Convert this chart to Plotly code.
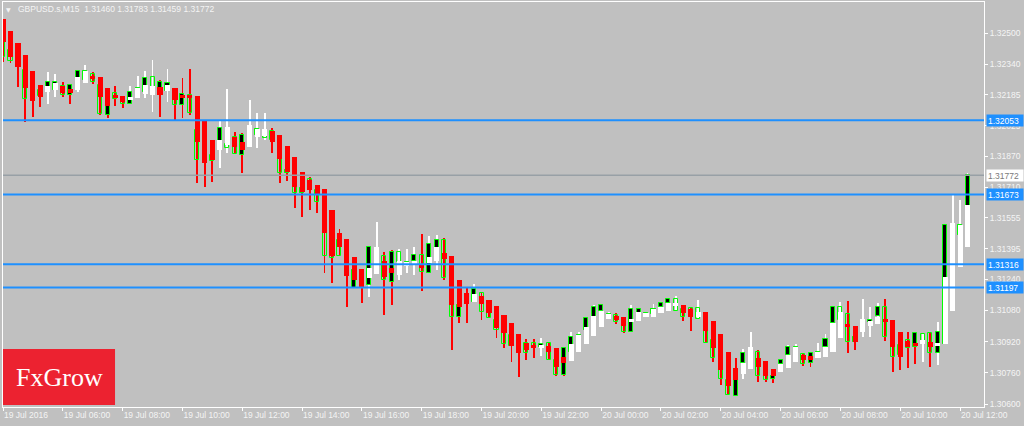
import plotly.graph_objects as go

# ---------------- data ----------------
time_labels = ["19 Jul 2016", "19 Jul 06:00", "19 Jul 08:00", "19 Jul 10:00", "19 Jul 12:00",
               "19 Jul 14:00", "19 Jul 16:00", "19 Jul 18:00", "19 Jul 20:00", "19 Jul 22:00",
               "20 Jul 00:00", "20 Jul 02:00", "20 Jul 04:00", "20 Jul 06:00", "20 Jul 08:00",
               "20 Jul 10:00", "20 Jul 12:00"]
label_bars = [0, 8, 16, 24, 32, 40, 48, 56, 64, 72, 80, 88, 96, 104, 112, 120, 128]

price_ticks = [1.32500, 1.32340, 1.32185, 1.32025, 1.31870, 1.31710, 1.31555,
               1.31395, 1.31240, 1.31080, 1.30920, 1.30760, 1.30600]
level_lines = [1.32053, 1.31673, 1.31316, 1.31197]
bid_price = 1.31772

open_ = [1.32515, 1.32413, 1.32362, 1.32311, 1.32182, 1.32208, 1.32198, 1.32208, 1.32229, 1.32182,
         1.32208, 1.32259, 1.32290, 1.32234, 1.32080, 1.32193, 1.32157, 1.32136, 1.32182, 1.32198,
         1.32275, 1.32182, 1.32203, 1.32182, 1.32131, 1.32182, 1.32003, 1.31901, 1.31875, 1.31926,
         1.31932, 1.31967, 1.31875, 1.31952, 1.31978, 1.32003, 1.31998, 1.31901, 1.31783, 1.31747,
         1.31681, 1.31752, 1.31696, 1.31542, 1.31389, 1.31440, 1.31286, 1.31194, 1.31235, 1.31210,
         1.31286, 1.31358, 1.31225, 1.31378, 1.31307, 1.31332, 1.31363, 1.31271, 1.31363, 1.31440,
         1.31184, 1.31046, 1.31158, 1.31122, 1.31169, 1.31107, 1.31030, 1.31005, 1.30953, 1.30902,
         1.30912, 1.30912, 1.30892, 1.30912, 1.30825, 1.30749, 1.30866, 1.30902, 1.30979, 1.31030,
         1.31076, 1.31041, 1.31056, 1.31030, 1.30969, 1.31066, 1.31051, 1.31061, 1.31097, 1.31117,
         1.31138, 1.31087, 1.31092, 1.31092, 1.31030, 1.30928, 1.30825, 1.30723, 1.30641, 1.30810,
         1.30825, 1.30866, 1.30774, 1.30728, 1.30805, 1.30851, 1.30877, 1.30856, 1.30810, 1.30846,
         1.30892, 1.31015, 1.31097, 1.31061, 1.30918, 1.30979, 1.31020, 1.31051, 1.31097, 1.30953,
         1.30902, 1.30928, 1.30892, 1.30959, 1.30964, 1.30861, 1.30907, 1.31466, 1.31466, 1.31460]
high = [1.32572, 1.32510, 1.32449, 1.32387, 1.32305, 1.32234, 1.32300, 1.32290, 1.32249, 1.32239,
        1.32305, 1.32336, 1.32300, 1.32275, 1.32218, 1.32229, 1.32177, 1.32229, 1.32280, 1.32305,
        1.32362, 1.32259, 1.32316, 1.32218, 1.32270, 1.32316, 1.32177, 1.32055, 1.31952, 1.32055,
        1.32213, 1.31993, 1.31988, 1.32157, 1.32090, 1.32090, 1.32014, 1.31978, 1.31921, 1.31865,
        1.31788, 1.31763, 1.31722, 1.31701, 1.31594, 1.31496, 1.31445, 1.31353, 1.31291, 1.31404,
        1.31532, 1.31378, 1.31389, 1.31394, 1.31394, 1.31404, 1.31471, 1.31460, 1.31466, 1.31450,
        1.31358, 1.31235, 1.31194, 1.31215, 1.31169, 1.31133, 1.31102, 1.31056, 1.31015, 1.30959,
        1.30933, 1.30933, 1.30938, 1.30918, 1.30887, 1.30887, 1.30969, 1.30969, 1.31046, 1.31107,
        1.31107, 1.31071, 1.31066, 1.31046, 1.31107, 1.31087, 1.31066, 1.31112, 1.31117, 1.31138,
        1.31153, 1.31107, 1.31092, 1.31133, 1.31071, 1.31025, 1.30959, 1.30866, 1.30836, 1.30882,
        1.30969, 1.30877, 1.30820, 1.30779, 1.30825, 1.30902, 1.30907, 1.30861, 1.30866, 1.30912,
        1.30959, 1.31097, 1.31122, 1.31128, 1.31000, 1.31138, 1.31097, 1.31117, 1.31138, 1.31030,
        1.30969, 1.30969, 1.30969, 1.30964, 1.30964, 1.31020, 1.31517, 1.31670, 1.31645, 1.31783]
low = [1.32352, 1.32346, 1.32223, 1.32044, 1.32070, 1.32121, 1.32136, 1.32172, 1.32172, 1.32136,
       1.32198, 1.32244, 1.32239, 1.32080, 1.32065, 1.32126, 1.32116, 1.32136, 1.32167, 1.32167,
       1.32095, 1.32070, 1.32147, 1.32055, 1.32065, 1.32080, 1.31732, 1.31711, 1.31737, 1.31809,
       1.31885, 1.31880, 1.31783, 1.31916, 1.31911, 1.31952, 1.31885, 1.31732, 1.31742, 1.31604,
       1.31558, 1.31594, 1.31578, 1.31271, 1.31220, 1.31358, 1.31097, 1.31194, 1.31117, 1.31148,
       1.31266, 1.31056, 1.31107, 1.31235, 1.31271, 1.31261, 1.31179, 1.31271, 1.31286, 1.31235,
       1.30877, 1.31015, 1.31015, 1.31122, 1.31030, 1.31041, 1.30938, 1.30887, 1.30815, 1.30738,
       1.30825, 1.30836, 1.30846, 1.30825, 1.30743, 1.30743, 1.30820, 1.30866, 1.30907, 1.30948,
       1.30994, 1.31035, 1.31010, 1.30964, 1.30969, 1.31025, 1.31046, 1.31046, 1.31066, 1.31076,
       1.31076, 1.31025, 1.30974, 1.31035, 1.30912, 1.30815, 1.30697, 1.30646, 1.30641, 1.30728,
       1.30779, 1.30713, 1.30713, 1.30708, 1.30764, 1.30784, 1.30815, 1.30795, 1.30790, 1.30836,
       1.30841, 1.30866, 1.30938, 1.30861, 1.30877, 1.30943, 1.30943, 1.31010, 1.30923, 1.30764,
       1.30774, 1.30784, 1.30805, 1.30815, 1.30790, 1.30800, 1.30907, 1.31440, 1.31440, 1.31459]
close = [1.32377, 1.32357, 1.32326, 1.32162, 1.32157, 1.32177, 1.32249, 1.32249, 1.32182, 1.32234,
         1.32305, 1.32305, 1.32249, 1.32085, 1.32126, 1.32162, 1.32136, 1.32198, 1.32218, 1.32270,
         1.32182, 1.32249, 1.32244, 1.32131, 1.32188, 1.32090, 1.31850, 1.31850, 1.31844, 1.32014,
         1.31911, 1.31880, 1.31978, 1.32003, 1.32008, 1.31962, 1.31952, 1.31783, 1.31798, 1.31681,
         1.31706, 1.31722, 1.31635, 1.31358, 1.31348, 1.31358, 1.31261, 1.31286, 1.31199, 1.31404,
         1.31389, 1.31235, 1.31378, 1.31327, 1.31327, 1.31363, 1.31276, 1.31420, 1.31440, 1.31245,
         1.31046, 1.31107, 1.31117, 1.31189, 1.31071, 1.31041, 1.30979, 1.30907, 1.30897, 1.30861,
         1.30861, 1.30887, 1.30907, 1.30825, 1.30749, 1.30887, 1.30943, 1.30953, 1.31041, 1.31097,
         1.31107, 1.31061, 1.31020, 1.30969, 1.31087, 1.31087, 1.31066, 1.31087, 1.31117, 1.31138,
         1.31076, 1.31046, 1.31051, 1.31035, 1.30912, 1.30836, 1.30728, 1.30646, 1.30774, 1.30861,
         1.30877, 1.30743, 1.30723, 1.30743, 1.30825, 1.30892, 1.30892, 1.30805, 1.30861, 1.30866,
         1.30933, 1.31097, 1.31030, 1.30918, 1.30943, 1.31030, 1.31030, 1.31097, 1.30943, 1.30841,
         1.30851, 1.30887, 1.30964, 1.30912, 1.30861, 1.30969, 1.31517, 1.31517, 1.31517, 1.31772]
ha_open = [1.32572, 1.32510, 1.32449, 1.32387, 1.32305, 1.32234, 1.32198, 1.32208, 1.32229, 1.32213,
           1.32208, 1.32244, 1.32280, 1.32275, 1.32218, 1.32182, 1.32177, 1.32157, 1.32167, 1.32188,
           1.32182, 1.32223, 1.32203, 1.32218, 1.32182, 1.32182, 1.32177, 1.32055, 1.31952, 1.31901,
           1.31926, 1.31967, 1.31942, 1.31916, 1.31967, 1.31973, 1.31998, 1.31978, 1.31921, 1.31865,
           1.31788, 1.31747, 1.31722, 1.31701, 1.31594, 1.31476, 1.31445, 1.31353, 1.31291, 1.31245,
           1.31266, 1.31332, 1.31297, 1.31261, 1.31307, 1.31317, 1.31312, 1.31322, 1.31332, 1.31373,
           1.31358, 1.31235, 1.31169, 1.31122, 1.31153, 1.31133, 1.31102, 1.31056, 1.31015, 1.30959,
           1.30912, 1.30902, 1.30892, 1.30897, 1.30887, 1.30841, 1.30820, 1.30866, 1.30907, 1.30948,
           1.30994, 1.31035, 1.31051, 1.31046, 1.31020, 1.31025, 1.31046, 1.31046, 1.31066, 1.31076,
           1.31102, 1.31107, 1.31087, 1.31046, 1.31071, 1.31025, 1.30959, 1.30866, 1.30784, 1.30754,
           1.30779, 1.30836, 1.30820, 1.30779, 1.30764, 1.30784, 1.30815, 1.30851, 1.30846, 1.30836,
           1.30841, 1.30866, 1.30938, 1.31010, 1.31000, 1.30969, 1.31000, 1.31010, 1.31035, 1.31030,
           1.30969, 1.30923, 1.30912, 1.30907, 1.30918, 1.30902, 1.30907, 1.31076, 1.31302, 1.31404]
ha_close = [1.32454, 1.32377, 1.32326, 1.32218, 1.32152, 1.32172, 1.32229, 1.32244, 1.32193, 1.32193,
            1.32275, 1.32305, 1.32264, 1.32172, 1.32126, 1.32172, 1.32147, 1.32172, 1.32218, 1.32234,
            1.32229, 1.32182, 1.32234, 1.32157, 1.32172, 1.32172, 1.31942, 1.31834, 1.31850, 1.31952,
            1.32019, 1.31916, 1.31901, 1.32029, 1.32008, 1.32008, 1.31942, 1.31855, 1.31788, 1.31711,
            1.31686, 1.31696, 1.31670, 1.31476, 1.31358, 1.31404, 1.31256, 1.31235, 1.31199, 1.31297,
            1.31404, 1.31250, 1.31271, 1.31332, 1.31327, 1.31332, 1.31297, 1.31353, 1.31404, 1.31343,
            1.31107, 1.31097, 1.31112, 1.31163, 1.31112, 1.31066, 1.30989, 1.30964, 1.30897, 1.30861,
            1.30877, 1.30892, 1.30902, 1.30866, 1.30790, 1.30810, 1.30907, 1.30953, 1.30994, 1.31051,
            1.31076, 1.31061, 1.31030, 1.31000, 1.31035, 1.31071, 1.31066, 1.31087, 1.31097, 1.31117,
            1.31117, 1.31066, 1.31046, 1.31071, 1.30974, 1.30887, 1.30774, 1.30692, 1.30723, 1.30810,
            1.30892, 1.30790, 1.30743, 1.30743, 1.30805, 1.30851, 1.30892, 1.30825, 1.30825, 1.30866,
            1.30892, 1.31015, 1.31071, 1.30994, 1.30918, 1.31035, 1.31025, 1.31046, 1.31020, 1.30892,
            1.30841, 1.30892, 1.30897, 1.30928, 1.30892, 1.30912, 1.31250, 1.31527, 1.31517, 1.31619]

# ---------------- styling ----------------
BG = "#C0C0C0"
LIME = "#00FF00"
HA_DOWN = "#FF0000"
HA_UP = "#FFFFFF"
LEVEL_BLUE = "#1E90FF"
TXT = "#F4F4F4"
FONT = "Liberation Sans, Arial, sans-serif"

n = len(open_)
xs = list(range(n))

ha_is_down = [o > c for o, c in zip(ha_open, ha_close)]
ha_colors = [HA_DOWN if d else HA_UP for d in ha_is_down]

wick_lo = [min(l, a, b) for l, a, b in zip(low, ha_open, ha_close)]
wick_hi = [max(h, a, b) for h, a, b in zip(high, ha_open, ha_close)]

body_lo = [min(o, c) for o, c in zip(open_, close)]
body_h = [max(abs(c - o), 0.00002) for o, c in zip(open_, close)]
body_fill = ["#000000" if c > o else "rgba(0,0,0,0)" for o, c in zip(open_, close)]

ha_lo = [min(o, c) for o, c in zip(ha_open, ha_close)]
ha_h = [max(abs(c - o), 0.00003) for o, c in zip(ha_open, ha_close)]

fig = go.Figure()

# Heiken Ashi wicks (high-low histogram)
fig.add_trace(go.Bar(
    x=xs, base=wick_lo, y=[h - l for h, l in zip(wick_hi, wick_lo)],
    width=0.12, marker=dict(color=ha_colors, line=dict(width=0)),
    hoverinfo="skip"))

# regular candles: lime outline, black bull body, hollow bear body
fig.add_trace(go.Bar(
    x=xs, base=body_lo, y=body_h, width=0.54,
    marker=dict(color=body_fill, line=dict(color=LIME, width=1)),
    hoverinfo="skip"))

# Heiken Ashi bodies on top
fig.add_trace(go.Bar(
    x=xs, base=ha_lo, y=ha_h, width=0.68,
    marker=dict(color=ha_colors, line=dict(width=0)),
    hoverinfo="skip"))

shapes = []
# bid line
shapes.append(dict(type="line", xref="paper", x0=0, x1=1, yref="y", y0=bid_price, y1=bid_price,
                   line=dict(color="#98A0A6", width=1.5), layer="above"))
for lv in level_lines:
    shapes.append(dict(type="line", xref="paper", x0=0, x1=1, yref="y", y0=lv, y1=lv,
                       line=dict(color=LEVEL_BLUE, width=2), layer="above"))
# FxGrow logo box
shapes.append(dict(type="rect", xref="paper", yref="paper", x0=0, x1=0.1142, y0=0.005, y1=0.1432,
                   fillcolor="#EC2230", line=dict(width=0), layer="above"))

annotations = []
for lv in level_lines:
    annotations.append(dict(xref="paper", x=1, xanchor="left", xshift=2, yref="y", y=lv,
                            yanchor="middle", text=f"{lv:.5f}", showarrow=False,
                            bgcolor=LEVEL_BLUE, font=dict(color="#FFFFFF", size=8.5, family=FONT),
                            width=34, height=9, align="left", borderpad=1))
annotations.append(dict(xref="paper", x=1, xanchor="left", xshift=2, yref="y", y=bid_price,
                        yanchor="middle", text=f"{bid_price:.5f}", showarrow=False,
                        bgcolor="#FFFFFF", font=dict(color="#7A7A7A", size=8.5, family=FONT),
                        width=34, height=9, align="left", borderpad=1))
annotations.append(dict(xref="paper", yref="paper", x=0.0061, y=0.9827, xanchor="center",
                        yanchor="middle", text="▼", showarrow=False,
                        font=dict(color=TXT, size=6, family="DejaVu Sans")))
title_txt = "GBPUSD.s,M15\u00a0\u00a0{:.5f} {:.5f} {:.5f} {:.5f}".format(open_[-1], high[-1], low[-1], close[-1])
annotations.append(dict(xref="paper", yref="paper", x=0.0133, y=0.9827, xanchor="left",
                        yanchor="middle", text=title_txt, showarrow=False,
                        font=dict(color=TXT, size=8.5, family=FONT)))
annotations.append(dict(xref="paper", yref="paper", x=0.0571, y=0.072, xanchor="center",
                        yanchor="middle", text="FxGrow", showarrow=False,
                        font=dict(color="#FFFFFF", size=26, family="Liberation Serif, Times New Roman, serif")))

fig.update_layout(
    width=1024, height=426,
    margin=dict(l=3, r=40, t=2, b=19, pad=0),
    paper_bgcolor=BG, plot_bgcolor=BG,
    barmode="overlay", bargap=0,
    showlegend=False,
    font=dict(family=FONT, size=8.5, color=TXT),
    shapes=shapes, annotations=annotations,
)
fig.update_xaxes(
    range=[0, 131.2], tickmode="array", tickvals=label_bars, ticktext=time_labels,
    ticks="outside", ticklen=3, tickcolor="#FFFFFF", ticklabelposition="outside right",
    showgrid=False, zeroline=False, showline=True, linecolor="#FFFFFF", linewidth=1, mirror=True,
    tickfont=dict(color=TXT, size=8.5, family=FONT), fixedrange=True)
fig.update_yaxes(
    side="right", range=[1.30585, 1.32659], tickmode="array", tickvals=price_ticks,
    ticktext=[f"{v:.5f}" for v in price_ticks],
    ticks="outside", ticklen=3, tickcolor="#FFFFFF",
    showgrid=False, zeroline=False, showline=True, linecolor="#FFFFFF", linewidth=1, mirror=True,
    tickfont=dict(color=TXT, size=8.5, family=FONT), fixedrange=True)

fig.write_html("out.html", config={"displayModeBar": False},
               post_script="document.body.style.margin='0';document.body.style.overflow='hidden';")
